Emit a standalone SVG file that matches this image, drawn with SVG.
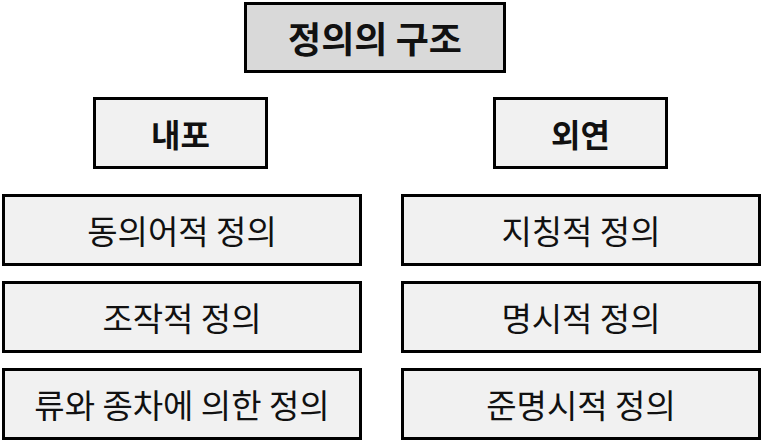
<svg xmlns="http://www.w3.org/2000/svg" width="762" height="445" viewBox="0 0 762 445">
<style>
rect{stroke:#000;stroke-width:3}
.t{fill:#d9d9d9}
.s,.i{fill:#f1f1f1}
text{font-family:"Noto Sans CJK KR","Noto Sans",sans-serif;text-anchor:middle;dominant-baseline:central;fill:#111}
.tt{font-size:36px;font-weight:bold}
.st{font-size:32px;font-weight:bold}
.it{font-size:33px}
</style>
<rect width="762" height="445" fill="#fff" style="stroke:none"/>
<g id="title"><rect class="t" x="245.5" y="3.5" width="259" height="68"/><text class="tt" x="375" y="37">정의의 구조</text></g>
<g id="naepo"><rect class="s" x="94.5" y="98.5" width="172" height="69"/><text class="st" x="180.5" y="133">내포</text></g>
<g id="oeyeon"><rect class="s" x="494.5" y="98.5" width="172" height="69"/><text class="st" x="580.5" y="133">외연</text></g>
<g id="l1"><rect class="i" x="3.5" y="195.5" width="357" height="69"/><text class="it" x="182" y="230">동의어적 정의</text></g>
<g id="l2"><rect class="i" x="3.5" y="282.5" width="357" height="69"/><text class="it" x="182" y="317">조작적 정의</text></g>
<g id="l3"><rect class="i" x="3.5" y="369.5" width="357" height="69"/><text class="it" x="182" y="404">류와 종차에 의한 정의</text></g>
<g id="r1"><rect class="i" x="402.5" y="195.5" width="357" height="69"/><text class="it" x="581" y="230">지칭적 정의</text></g>
<g id="r2"><rect class="i" x="402.5" y="282.5" width="357" height="69"/><text class="it" x="581" y="317">명시적 정의</text></g>
<g id="r3"><rect class="i" x="402.5" y="369.5" width="357" height="69"/><text class="it" x="581" y="404">준명시적 정의</text></g>
<g id="connectors"></g>
</svg>
